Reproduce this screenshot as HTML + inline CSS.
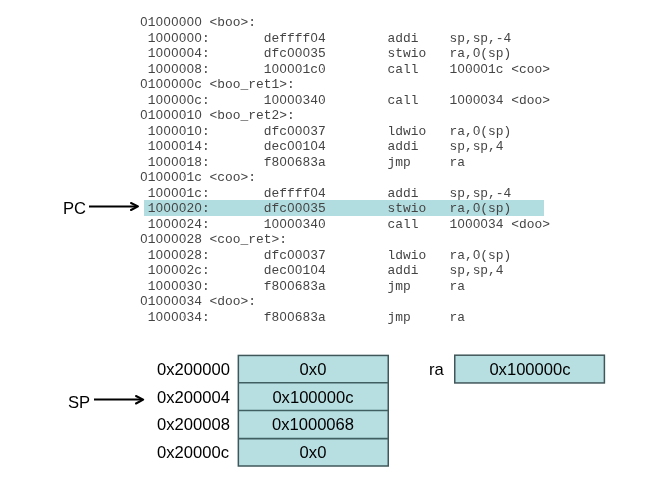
<!DOCTYPE html>
<html><head><meta charset="utf-8">
<style>
html,body{margin:0;padding:0;background:#fff;width:666px;height:500px;overflow:hidden;position:relative}
.code{position:absolute;left:139.7px;top:14.8px;margin:0;font-family:"Liberation Mono",monospace;font-size:12.9px;line-height:15.5px;color:#444;white-space:pre;will-change:transform}
.hl{position:absolute;left:144px;top:200px;width:400px;height:16px;background:#b2dde0}
.lbl{position:absolute;font-family:"Liberation Sans",sans-serif;font-size:16.6px;color:#000;line-height:1;will-change:transform}
.c{text-align:center;width:150px}
svg{position:absolute;left:0;top:0}
.cov{z-index:5}
.code{z-index:1}
</style></head><body>
<div class="hl"></div>
<pre class="code">01000000 &lt;boo&gt;:
 1000000:       deffff04        addi    sp,sp,-4
 1000004:       dfc00035        stwio   ra,0(sp)
 1000008:       100001c0        call    100001c &lt;coo&gt;
0100000c &lt;boo_ret1&gt;:
 100000c:       10000340        call    1000034 &lt;doo&gt;
01000010 &lt;boo_ret2&gt;:
 1000010:       dfc00037        ldwio   ra,0(sp)
 1000014:       dec00104        addi    sp,sp,4
 1000018:       f800683a        jmp     ra
0100001c &lt;coo&gt;:
 100001c:       deffff04        addi    sp,sp,-4
 1000020:       dfc00035        stwio   ra,0(sp)
 1000024:       10000340        call    1000034 &lt;doo&gt;
01000028 &lt;coo_ret&gt;:
 1000028:       dfc00037        ldwio   ra,0(sp)
 100002c:       dec00104        addi    sp,sp,4
 1000030:       f800683a        jmp     ra
01000034 &lt;doo&gt;:
 1000034:       f800683a        jmp     ra</pre>
<svg class="cov" width="666" height="500" shape-rendering="crispEdges">
<path fill="#fff" d="M143 21h2v2h-2zM158 21h2v2h-2zM166 21h2v2h-2zM174 21h2v2h-2zM181 21h2v2h-2zM189 21h2v2h-2zM197 21h2v2h-2zM158 37h2v2h-2zM166 37h2v2h-2zM174 37h2v2h-2zM181 37h2v2h-2zM189 37h2v2h-2zM197 37h2v2h-2zM313 37h2v2h-2zM158 52h2v2h-2zM166 52h2v2h-2zM174 52h2v2h-2zM181 52h2v2h-2zM189 52h2v2h-2zM290 52h2v2h-2zM297 52h2v2h-2zM305 52h2v2h-2zM475 52h2v2h-2zM158 68h2v2h-2zM166 68h2v2h-2zM174 68h2v2h-2zM181 68h2v2h-2zM189 68h2v2h-2zM274 68h2v2h-2zM282 68h2v2h-2zM290 68h2v2h-2zM297 68h2v2h-2zM321 68h1v2h-1zM460 68h2v2h-2zM468 68h1v2h-1zM475 68h2v2h-2zM483 68h2v2h-2zM143 83h2v2h-2zM158 83h2v2h-2zM166 83h2v2h-2zM174 83h2v2h-2zM181 83h2v2h-2zM189 83h2v2h-2zM158 99h2v2h-2zM166 99h2v2h-2zM174 99h2v2h-2zM181 99h2v2h-2zM189 99h2v2h-2zM274 99h2v2h-2zM282 99h2v2h-2zM290 99h2v2h-2zM297 99h2v2h-2zM321 99h1v2h-1zM460 99h2v2h-2zM468 99h1v2h-1zM475 99h2v2h-2zM483 99h2v2h-2zM143 114h2v2h-2zM158 114h2v2h-2zM166 114h2v2h-2zM174 114h2v2h-2zM181 114h2v2h-2zM197 114h2v2h-2zM158 130h2v2h-2zM166 130h2v2h-2zM174 130h2v2h-2zM181 130h2v2h-2zM197 130h2v2h-2zM290 130h2v2h-2zM297 130h2v2h-2zM305 130h2v2h-2zM475 130h2v2h-2zM158 145h2v2h-2zM166 145h2v2h-2zM174 145h2v2h-2zM181 145h2v2h-2zM290 145h2v2h-2zM297 145h2v2h-2zM313 145h2v2h-2zM158 161h2v2h-2zM166 161h2v2h-2zM174 161h2v2h-2zM181 161h2v2h-2zM282 161h2v2h-2zM290 161h2v2h-2zM143 176h2v2h-2zM158 176h2v2h-2zM166 176h2v2h-2zM174 176h2v2h-2zM181 176h2v2h-2zM158 192h2v2h-2zM166 192h2v2h-2zM174 192h2v2h-2zM181 192h2v2h-2zM313 192h2v2h-2zM158 223h2v2h-2zM166 223h2v2h-2zM174 223h2v2h-2zM181 223h2v2h-2zM274 223h2v2h-2zM282 223h2v2h-2zM290 223h2v2h-2zM297 223h2v2h-2zM321 223h1v2h-1zM460 223h2v2h-2zM468 223h1v2h-1zM475 223h2v2h-2zM483 223h2v2h-2zM143 238h2v2h-2zM158 238h2v2h-2zM166 238h2v2h-2zM174 238h2v2h-2zM181 238h2v2h-2zM158 254h2v2h-2zM166 254h2v2h-2zM174 254h2v2h-2zM181 254h2v2h-2zM290 254h2v2h-2zM297 254h2v2h-2zM305 254h2v2h-2zM475 254h2v2h-2zM158 269h2v2h-2zM166 269h2v2h-2zM174 269h2v2h-2zM181 269h2v2h-2zM290 269h2v2h-2zM297 269h2v2h-2zM313 269h2v2h-2zM158 285h2v2h-2zM166 285h2v2h-2zM174 285h2v2h-2zM181 285h2v2h-2zM197 285h2v2h-2zM282 285h2v2h-2zM290 285h2v2h-2zM143 300h2v2h-2zM158 300h2v2h-2zM166 300h2v2h-2zM174 300h2v2h-2zM181 300h2v2h-2zM158 316h2v2h-2zM166 316h2v2h-2zM174 316h2v2h-2zM181 316h2v2h-2zM282 316h2v2h-2zM290 316h2v2h-2z"/>
<path fill="#b2dde0" d="M158 207h2v2h-2zM166 207h2v2h-2zM174 207h2v2h-2zM181 207h2v2h-2zM197 207h2v2h-2zM290 207h2v2h-2zM297 207h2v2h-2zM305 207h2v2h-2zM475 207h2v2h-2z"/>
</svg>
<svg width="666" height="500">
<g fill="#b7dfe2" stroke="#40575a" stroke-width="1.5">
<rect x="238.35" y="355.45" width="149.9" height="110.55"/>
<rect x="454.75" y="355.2" width="149.65" height="27.75"/>
</g>
<g stroke="#3f5f61" stroke-width="1.6">
<line x1="238.35" y1="382.8" x2="388.25" y2="382.8"/>
<line x1="238.35" y1="410.5" x2="388.25" y2="410.5"/>
<line x1="238.35" y1="438.6" x2="388.25" y2="438.6"/>
</g>
<g stroke="#000" stroke-width="2" fill="none" stroke-linecap="round" stroke-linejoin="round">
<line x1="89" y1="206.4" x2="137" y2="206.4" stroke-linecap="butt"/>
<polyline points="131,203 138,206.4 131,210"/>
<line x1="94" y1="399.6" x2="142" y2="399.6" stroke-linecap="butt"/>
<polyline points="136,396 143.2,399.6 136,403.5"/>
</g>
</svg>
<div class="lbl" style="left:63px;top:201px">PC</div>
<div class="lbl" style="left:68px;top:395px">SP</div>
<div class="lbl" style="left:157px;top:362px">0x200000</div>
<div class="lbl" style="left:157px;top:390px">0x200004</div>
<div class="lbl" style="left:157px;top:417px">0x200008</div>
<div class="lbl" style="left:157px;top:445px">0x20000c</div>
<div class="lbl c" style="left:238.3px;top:362px">0x0</div>
<div class="lbl c" style="left:238.3px;top:390px">0x100000c</div>
<div class="lbl c" style="left:238.3px;top:417px">0x1000068</div>
<div class="lbl c" style="left:238.3px;top:445px">0x0</div>
<div class="lbl" style="left:429px;top:362px">ra</div>
<div class="lbl c" style="left:454.6px;top:362px">0x100000c</div>
</body></html>
